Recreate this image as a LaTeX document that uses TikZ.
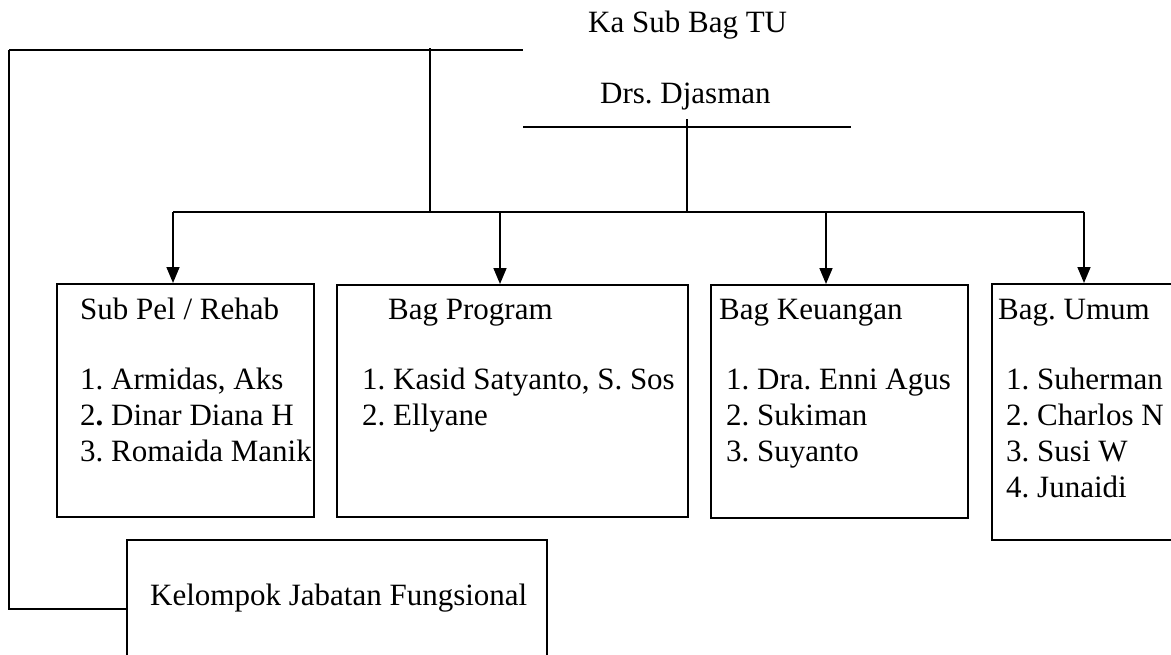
\documentclass[tikz,border=0pt]{standalone}
\usepackage{fontspec}
\setmainfont{Liberation Serif}
\usetikzlibrary{arrows.meta}
\frenchspacing
\begin{document}
\begin{tikzpicture}[x=1pt,y=-1pt,
  ln/.style={line width=1.6pt},
  arr/.style={line width=1.6pt,-{Triangle[length=16pt,width=13pt]}},
  boxnode/.style={draw,line width=1.6pt,inner sep=0pt,anchor=north west},
  txt/.style={inner sep=0pt,anchor=base west,font=\fontsize{31}{36}\selectfont\frenchspacing}]
\clip (0,0) rectangle (1171,654);
\fill[white] (0,0) rectangle (1171,654);
% header texts
\node[txt] (kasub) at (588,32) {Ka Sub Bag TU};
\node[txt] (drs) at (600,103) {Drs. Djasman};
% header lines
\coordinate (tl) at (9,50);
\coordinate (tr) at (523,50);
\coordinate (dl) at (523,127);
\coordinate (dr) at (851,127);
\coordinate (v1t) at (430,48);
\coordinate (v1b) at (430,212);
\coordinate (v2t) at (687,119);
\coordinate (v2b) at (687,212);
\coordinate (busl) at (173,212);
\coordinate (busr) at (1084,212);
\coordinate (bus2) at (500,212);
\coordinate (bus3) at (826,212);
\coordinate (lb) at (9,609);
\draw[ln] (tl) -- (tr);
\draw[ln] (dl) -- (dr);
\draw[ln] (v1t) -- (v1b);
\draw[ln] (v2t) -- (v2b);
\draw[ln] (busl) -- (busr);
% boxes
\node[boxnode,minimum width=257pt,minimum height=233pt] (b1) at (56,283) {};
\node[boxnode,minimum width=351pt,minimum height=232pt] (b2) at (336,284) {};
\node[boxnode,minimum width=257pt,minimum height=233pt] (b3) at (710,284) {};
\node[boxnode,minimum width=200pt,minimum height=256pt] (b4) at (991,283) {};
\node[boxnode,minimum width=420pt,minimum height=140pt] (kj) at (126,539) {};
% arrows
\draw[arr] (busl) -- (busl |- b1.north);
\draw[arr] (bus2) -- (bus2 |- b2.north);
\draw[arr] (bus3) -- (bus3 |- b3.north);
\draw[arr] (busr) -- (busr |- b4.north);
% left connector
\draw[ln] (tl) -- (lb) -- (lb -| kj.west);
% box texts
\node[txt] (t1) at (80,319) {Sub Pel / Rehab};
\node[txt] (t1a) at (80,389) {1. Armidas, Aks};
\node[txt] (t1b) at (80,425) {2\textbf{.} Dinar Diana H};
\node[txt] (t1c) at (80,461) {3. Romaida Manik};
\node[txt] (t2) at (388,319) {Bag Program};
\node[txt] (t2a) at (362,389) {1. Kasid Satyanto, S. Sos};
\node[txt] (t2b) at (362,425) {2. Ellyane};
\node[txt] (t3) at (719,319) {Bag Keuangan};
\node[txt] (t3a) at (726,389) {1. Dra. Enni Agus};
\node[txt] (t3b) at (726,425) {2. Sukiman};
\node[txt] (t3c) at (726,461) {3. Suyanto};
\node[txt] (t4) at (998,319) {Bag. Umum};
\node[txt] (t4a) at (1006,389) {1. Suherman};
\node[txt] (t4b) at (1006,425) {2. Charlos N};
\node[txt] (t4c) at (1006,461) {3. Susi W};
\node[txt] (t4d) at (1006,497) {4. Junaidi};
\node[txt] (tk) at (150,605) {Kelompok Jabatan Fungsional};
\end{tikzpicture}
\end{document}
